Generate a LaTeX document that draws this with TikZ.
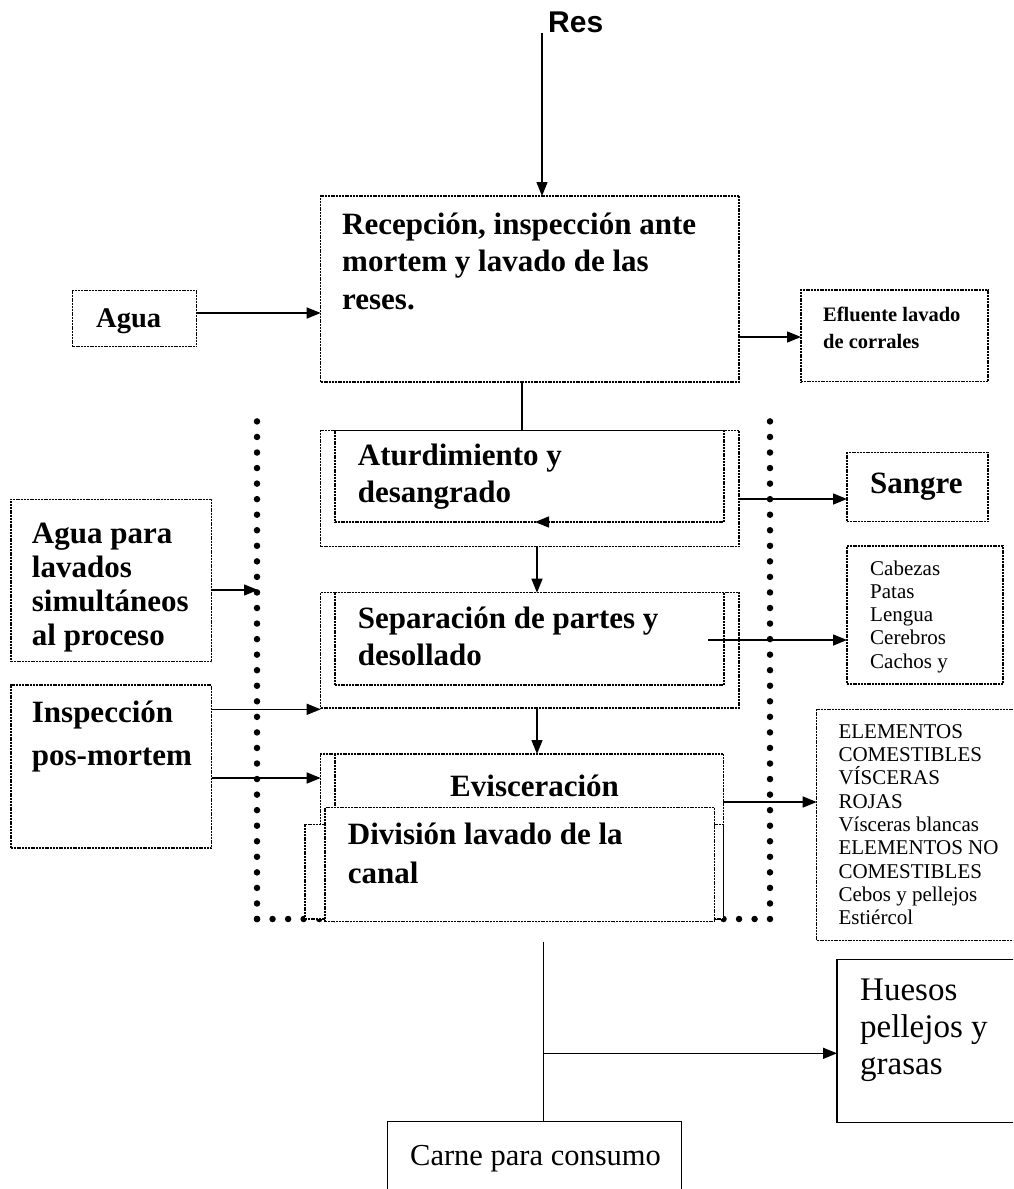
\documentclass[tikz,border=0pt]{standalone}
\usepackage{fontspec}
\setmainfont{Liberation Serif}
\newfontfamily\arialfont{Liberation Sans}
\usetikzlibrary{arrows.meta}
\begin{document}
\begin{tikzpicture}[x=1pt,y=-1pt,
  dbox/.style={draw, line width=1.5pt, dash pattern=on 2pt off 0.8pt, fill=white, inner sep=0pt, outer sep=0pt, anchor=north west},
  sbox/.style={draw, line width=1.5pt, fill=white, inner sep=0pt, outer sep=0pt, anchor=north west},
  dline/.style={line width=1.5pt, dash pattern=on 2pt off 0.8pt},
  arr/.style={line width=1.4pt, -{Triangle[length=14pt,width=11pt]}},
  conn/.style={line width=1.4pt},
  dots/.style={line width=6.5pt, line cap=round, dash pattern=on 0pt off 15.55pt},
  bigb/.style={anchor=base west, inner sep=0pt, font=\bfseries\fontsize{31}{37}\selectfont},
  smallb/.style={anchor=base west, inner sep=0pt, font=\bfseries\fontsize{20.5}{26}\selectfont},
  smallr/.style={anchor=base west, inner sep=0pt, font=\fontsize{21}{23}\selectfont},
  midr/.style={anchor=base west, inner sep=0pt, font=\fontsize{33}{37}\selectfont},
  carner/.style={anchor=base west, inner sep=0pt, font=\fontsize{30.5}{37}\selectfont}]
\useasboundingbox (0,0) rectangle (1013,1189);
\clip (0,0) rectangle (1013,1189);

% dotted enclosure
\draw[dots] (257,919) -- (257,406);
\draw[dots] (257,919) -- (770,919);
\draw[dots] (770,919) -- (770,406);

% boxes
\node[dbox, minimum width=418.3pt, minimum height=186pt] (rec) at (320.7,196) {};
\node[dbox, minimum width=124pt, minimum height=56pt] (agua) at (72.7,290.7) {};
\node[dbox, minimum width=187pt, minimum height=91.7pt] (eflu) at (801,290) {};
\node[dbox, minimum width=418.3pt, minimum height=116pt] (atuo) at (320.7,430.7) {};
\node[dbox, minimum width=389pt, minimum height=91.3pt] (atui) at (335,430.7) {};
\node[dbox, minimum width=141pt, minimum height=69pt] (sangre) at (847,452.7) {};
\node[dbox, minimum width=418.3pt, minimum height=115.3pt] (sepo) at (320.7,592.7) {};
\node[dbox, minimum width=389pt, minimum height=92.3pt] (sepi) at (335,592.7) {};
\node[dbox, minimum width=156pt, minimum height=138pt] (cab) at (847,546) {};
\node[dbox, minimum width=200.7pt, minimum height=162.4pt] (aguap) at (11,499.3) {};
\node[dbox, minimum width=200.7pt, minimum height=163pt] (insp) at (11,685) {};
\node[dbox, minimum width=402.6pt, minimum height=165pt] (evis) at (320.7,754) {};
\draw[dline] (evis.north west -| 335,0) -- (335,807.3);
\node[dbox, minimum width=418.3pt, minimum height=94.7pt] (divb) at (305,824.3) {};
\node[dbox, minimum width=389.3pt, minimum height=114.4pt] (div) at (325,807.3) {};
\node[dbox, minimum width=250pt, minimum height=231.4pt] (elem) at (816.7,709.3) {};
\node[sbox, minimum width=250pt, minimum height=163.4pt] (huesos) at (837,959.3) {};
\node[sbox, minimum width=294.4pt, minimum height=100pt] (carne) at (387.3,1121.7) {};

% texts
\node[anchor=base west, inner sep=0pt, font=\arialfont\bfseries\fontsize{30}{36}\selectfont] (res) at (548,32) {Res};
\foreach \t [count=\i from 0] in {{Recepción, inspección ante},{mortem y lavado de las},{reses.}}
  \node[bigb] (rect\i) at (342,{234+37.5*\i}) {\t};
\node[anchor=base west, inner sep=0pt, font=\bfseries\fontsize{28.5}{34}\selectfont] (aguat) at (96,327) {Agua};
\foreach \t [count=\i from 0] in {{Efluente lavado},{de corrales}}
  \node[smallb] (eflt\i) at (823,{321.7+26.3*\i}) {\t};
\foreach \t [count=\i from 0] in {{Aturdimiento y},{desangrado}}
  \node[bigb] (atut\i) at (357.7,{465+37*\i}) {\t};
\node[bigb] (sangt) at (870,493) {Sangre};
\foreach \t [count=\i from 0] in {{Separación de partes y},{desollado}}
  \node[bigb] (sept\i) at (357.7,{628+37*\i}) {\t};
\foreach \t [count=\i from 0] in {Cabezas,Patas,Lengua,Cerebros,{Cachos y}}
  \node[smallr] (cabt\i) at (870,{575+23.25*\i}) {\t};
\foreach \t [count=\i from 0] in {{Agua para},{lavados},{simultáneos},{al proceso}}
  \node[bigb] (aguapt\i) at (31.7,{543+34*\i}) {\t};
\foreach \t [count=\i from 0] in {{Inspección},{pos-mortem}}
  \node[bigb] (inspt\i) at (31.7,{722.7+42.3*\i}) {\t};
\node[bigb] (evist) at (450,796.7) {Evisceración};
\foreach \t [count=\i from 0] in {{División lavado de la},{canal}}
  \node[bigb] (divt\i) at (347.7,{844+39*\i}) {\t};
\foreach \t [count=\i from 0] in {ELEMENTOS,COMESTIBLES,VÍSCERAS,ROJAS,{Vísceras blancas},{ELEMENTOS NO},COMESTIBLES,{Cebos y pellejos},Estiércol}
  \node[smallr] (elemt\i) at (838.3,{738.3+23.3*\i}) {\t};
\foreach \t [count=\i from 0] in {Huesos,{pellejos y},grasas}
  \node[midr] (huest\i) at (860,{1000.5+37*\i}) {\t};
\node[carner] (carnet) at (410,1165) {Carne para consumo};

% connector helper coordinates
\coordinate (resl) at (542,33);
\coordinate (yAgua) at (0,313);
\coordinate (yEflu) at (0,337);
\coordinate (xRA) at (522,0);
\coordinate (ySang) at (0,499);
\coordinate (xAS) at (537,0);
\coordinate (yCab) at (0,640);
\coordinate (cabstart) at (708,640);
\coordinate (yLav) at (0,590);
\coordinate (dotL) at (258,590);
\coordinate (yIn1) at (0,709.3);
\coordinate (yIn2) at (0,778);
\coordinate (yElem) at (0,802);
\coordinate (botstart) at (543.3,941.7);
\coordinate (branch) at (543.3,1053.3);
\coordinate (tipA) at (535,522);

% connectors
\draw[arr] (resl) -- (resl |- rec.north);
\draw[arr] (agua.east |- yAgua) -- (rec.west |- yAgua);
\draw[arr] (rec.east |- yEflu) -- (eflu.west |- yEflu);
\draw[conn] (rec.south -| xRA) -- (atuo.north -| xRA);
\draw[arr] (atuo.east |- ySang) -- (sangre.west |- ySang);
\draw[arr] (atuo.south -| xAS) -- (sepo.north -| xAS);
\draw[arr] ([xshift=15pt]tipA) -- (tipA);
\draw[arr] (cabstart) -- (cab.west |- yCab);
\draw[arr] (aguap.east |- yLav) -- (dotL);
\draw[arr] (insp.east |- yIn1) -- (sepo.west |- yIn1);
\draw[arr] (insp.east |- yIn2) -- (evis.west |- yIn2);
\draw[arr] (sepo.south -| xAS) -- (evis.north -| xAS);
\draw[arr] (evis.east |- yElem) -- (elem.west |- yElem);
\draw[conn] (botstart) -- (carne.north -| botstart);
\draw[arr] (branch) -- (huesos.west |- branch);
\end{tikzpicture}
\end{document}
